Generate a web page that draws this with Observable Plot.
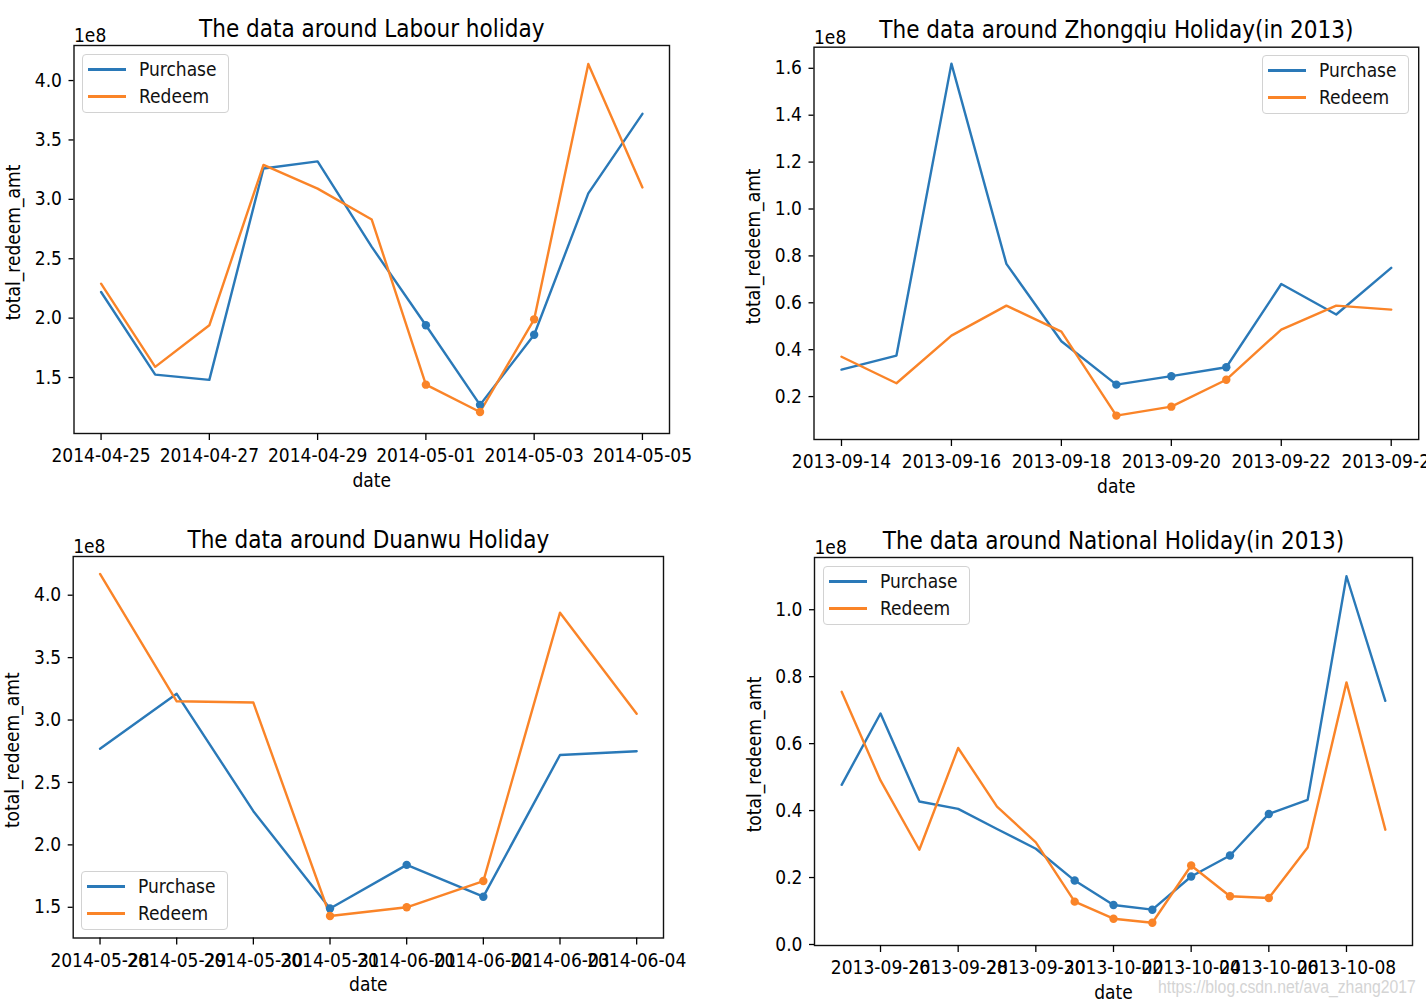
<!DOCTYPE html>
<html>
<head>
<meta charset="utf-8">
<script src="https://cdn.jsdelivr.net/npm/d3@7"></script>
<script src="https://cdn.jsdelivr.net/npm/@observablehq/plot@0.6"></script>
<style>
html, body { margin: 0; padding: 0; background: #fff; overflow: hidden; }
#chart { position: relative; width: 1426px; height: 1004px; background: #fff;
  font-family: "DejaVu Sans Condensed", "DejaVu Sans", sans-serif; font-stretch: condensed; }
.panel { position: absolute; }
.legend { position: absolute; box-sizing: border-box; border: 1px solid #d2d2d2; border-radius: 4px;
  background: rgba(255,255,255,0.8); }
.legend .sw { position: absolute; height: 3px; }
.legend .lb { position: absolute; font-size: 19px; line-height: 19px; color: #111; white-space: nowrap; }
.wm { position: absolute; font-family: "Liberation Sans", Arial, sans-serif; font-size: 19px; line-height: 19px;
  color: #d4d4d4; white-space: nowrap; transform: scaleX(0.83); transform-origin: left top; }
</style>
</head>
<body>
<div id="chart"></div>
<script>
// Values are in units of 1e8 (matplotlib axis offset "1e8")
const labourDates = ["2014-04-25","2014-04-26","2014-04-27","2014-04-28","2014-04-29","2014-04-30","2014-05-01","2014-05-02","2014-05-03","2014-05-04","2014-05-05"];
const labourPurchase = [2.22, 1.525, 1.48, 3.26, 3.32, 2.6, 1.94, 1.27, 1.86, 3.05, 3.72];
const labourRedeem = [2.29, 1.59, 1.94, 3.29, 3.09, 2.83, 1.44, 1.21, 1.99, 4.14, 3.10];
const labourHoliday = ["2014-05-01","2014-05-02","2014-05-03"];
const labourXTicks = ["2014-04-25","2014-04-27","2014-04-29","2014-05-01","2014-05-03","2014-05-05"];
const labourYTicks = [1.5, 2.0, 2.5, 3.0, 3.5, 4.0];

const zhongqiuDates = ["2013-09-14","2013-09-15","2013-09-16","2013-09-17","2013-09-18","2013-09-19","2013-09-20","2013-09-21","2013-09-22","2013-09-23","2013-09-24"];
const zhongqiuPurchase = [0.315, 0.375, 1.62, 0.766, 0.436, 0.251, 0.287, 0.325, 0.68, 0.55, 0.749];
const zhongqiuRedeem = [0.37, 0.257, 0.46, 0.588, 0.477, 0.119, 0.157, 0.272, 0.486, 0.588, 0.571];
const zhongqiuHoliday = ["2013-09-19","2013-09-20","2013-09-21"];
const zhongqiuXTicks = ["2013-09-14","2013-09-16","2013-09-18","2013-09-20","2013-09-22","2013-09-24"];
const zhongqiuYTicks = [0.2, 0.4, 0.6, 0.8, 1.0, 1.2, 1.4, 1.6];

const duanwuDates = ["2014-05-28","2014-05-29","2014-05-30","2014-05-31","2014-06-01","2014-06-02","2014-06-03","2014-06-04"];
const duanwuPurchase = [2.77, 3.21, 2.27, 1.49, 1.84, 1.585, 2.72, 2.75];
const duanwuRedeem = [4.17, 3.15, 3.14, 1.43, 1.50, 1.71, 3.86, 3.05];
const duanwuHoliday = ["2014-05-31","2014-06-01","2014-06-02"];
const duanwuXTicks = ["2014-05-28","2014-05-29","2014-05-30","2014-05-31","2014-06-01","2014-06-02","2014-06-03","2014-06-04"];
const duanwuYTicks = [1.5, 2.0, 2.5, 3.0, 3.5, 4.0];

const nationalDates = ["2013-09-25","2013-09-26","2013-09-27","2013-09-28","2013-09-29","2013-09-30","2013-10-01","2013-10-02","2013-10-03","2013-10-04","2013-10-05","2013-10-06","2013-10-07","2013-10-08","2013-10-09"];
const nationalPurchase = [0.477, 0.69, 0.427, 0.405, 0.345, 0.286, 0.191, 0.118, 0.104, 0.203, 0.266, 0.39, 0.432, 1.10, 0.728];
const nationalRedeem = [0.755, 0.49, 0.283, 0.587, 0.412, 0.305, 0.128, 0.077, 0.065, 0.236, 0.144, 0.139, 0.29, 0.783, 0.343];
const nationalHoliday = ["2013-10-01","2013-10-02","2013-10-03","2013-10-04","2013-10-05","2013-10-06"];
const nationalXTicks = ["2013-09-26","2013-09-28","2013-09-30","2013-10-02","2013-10-04","2013-10-06","2013-10-08"];
const nationalYTicks = [0.0, 0.2, 0.4, 0.6, 0.8, 1.0];

const seriesNames = ["Purchase", "Redeem"];
const BLUE = "#2a79b8";
const ORANGE = "#fa8428";
const FONT = '"DejaVu Sans Condensed","DejaVu Sans",sans-serif';

const parse = d3.utcParse("%Y-%m-%d");
const fmt = d3.utcFormat("%Y-%m-%d");
const root = document.getElementById("chart");

const panels = [
  {title: "The data around Labour holiday", dates: labourDates, purchase: labourPurchase, redeem: labourRedeem,
   holiday: labourHoliday, xTicks: labourXTicks, yTicks: labourYTicks,
   left: 0, top: 0, width: 713, height: 500, margin: [45, 44, 67, 73.5], yDomain: [1.029, 4.295],
   legend: [82, 54]},
  {title: "The data around Zhongqiu Holiday(in 2013)", dates: zhongqiuDates, purchase: zhongqiuPurchase, redeem: zhongqiuRedeem,
   holiday: zhongqiuHoliday, xTicks: zhongqiuXTicks, yTicks: zhongqiuYTicks,
   left: 713, top: 0, width: 713, height: 500, margin: [46.7, 7.8, 61, 100.5], yDomain: [0.017, 1.69],
   legend: [1262, 55]},
  {title: "The data around Duanwu Holiday", dates: duanwuDates, purchase: duanwuPurchase, redeem: duanwuRedeem,
   holiday: duanwuHoliday, xTicks: duanwuXTicks, yTicks: duanwuYTicks,
   left: 0, top: 500, width: 713, height: 504, margin: [56, 50, 66.5, 72.7], yDomain: [1.254, 4.31],
   legend: [81, 871]},
  {title: "The data around National Holiday(in 2013)", dates: nationalDates, purchase: nationalPurchase, redeem: nationalRedeem,
   holiday: nationalHoliday, xTicks: nationalXTicks, yTicks: nationalYTicks,
   left: 713, top: 500, width: 713, height: 504, margin: [57, 14, 59, 101], yDomain: [-0.003, 1.156],
   legend: [823, 566]}
];

function makePanel(p) {
  const rows = p.dates.map((d, i) => ({date: parse(d), purchase: p.purchase[i], redeem: p.redeem[i], holiday: p.holiday.includes(d)}));
  const t0 = +rows[0].date, t1 = +rows[rows.length - 1].date;
  const pad = (t1 - t0) * 0.05;
  const hol = rows.filter(r => r.holiday);
  const svg = Plot.plot({
    width: p.width, height: p.height,
    marginTop: p.margin[0], marginRight: p.margin[1], marginBottom: p.margin[2], marginLeft: p.margin[3],
    x: {type: "utc", domain: [new Date(t0 - pad), new Date(t1 + pad)]},
    y: {domain: p.yDomain},
    style: {fontFamily: FONT, fontStretch: "condensed", fontSize: "19px", background: "transparent", color: "#000"},
    marks: [
      Plot.line(rows, {x: "date", y: "purchase", stroke: BLUE, strokeWidth: 2.4}),
      Plot.line(rows, {x: "date", y: "redeem", stroke: ORANGE, strokeWidth: 2.4}),
      Plot.dot(hol, {x: "date", y: "purchase", r: 4.2, fill: BLUE}),
      Plot.dot(hol, {x: "date", y: "redeem", r: 4.2, fill: ORANGE}),
      Plot.frame({stroke: "#111", strokeWidth: 1.4}),
      Plot.axisX({ticks: p.xTicks.map(parse), tickFormat: fmt, tickSize: 7, tickPadding: 8, fontSize: 19, label: null, strokeWidth: 1.3}),
      Plot.axisY({ticks: p.yTicks, tickFormat: d => d.toFixed(1), tickSize: 5, tickPadding: 7, fontSize: 19, label: null, strokeWidth: 1.3}),
      Plot.text([p.title], {text: d => d, frameAnchor: "top", textAnchor: "middle", dy: -9, lineAnchor: "bottom", fontSize: 24}),
      Plot.text(["1e8"], {text: d => d, frameAnchor: "top-left", textAnchor: "start", dy: -3.5, lineAnchor: "bottom", fontSize: 19}),
      Plot.text(["total_redeem_amt"], {text: d => d, frameAnchor: "left", textAnchor: "middle", rotate: -90, dx: -54, dy: 3, lineAnchor: "bottom", fontSize: 19}),
      Plot.text(["date"], {text: d => d, frameAnchor: "bottom", textAnchor: "middle", dy: 53, lineAnchor: "bottom", fontSize: 19})
    ]
  });
  const wrap = document.createElement("div");
  wrap.className = "panel";
  wrap.style.left = p.left + "px";
  wrap.style.top = p.top + "px";
  wrap.appendChild(svg);
  root.appendChild(wrap);

  // legend
  const box = document.createElement("div");
  box.className = "legend";
  box.style.left = p.legend[0] + "px";
  box.style.top = p.legend[1] + "px";
  box.style.width = "147px";
  box.style.height = "59px";
  [[seriesNames[0], BLUE, 15], [seriesNames[1], ORANGE, 42]].forEach(([name, color, ly]) => {
    const sw = document.createElement("div");
    sw.className = "sw";
    sw.style.left = "5px";
    sw.style.width = "38px";
    sw.style.top = (ly - 2) + "px";
    sw.style.background = color;
    box.appendChild(sw);
    const lb = document.createElement("div");
    lb.className = "lb";
    lb.style.left = "56px";
    lb.style.top = (ly - 10) + "px";
    lb.textContent = name;
    box.appendChild(lb);
  });
  root.appendChild(box);
}

panels.forEach(makePanel);

const wm = document.createElement("div");
wm.className = "wm";
wm.style.left = "1158px";
wm.style.top = "977px";
wm.textContent = "https://blog.csdn.net/ava_zhang2017";
root.appendChild(wm);
</script>
</body>
</html>
